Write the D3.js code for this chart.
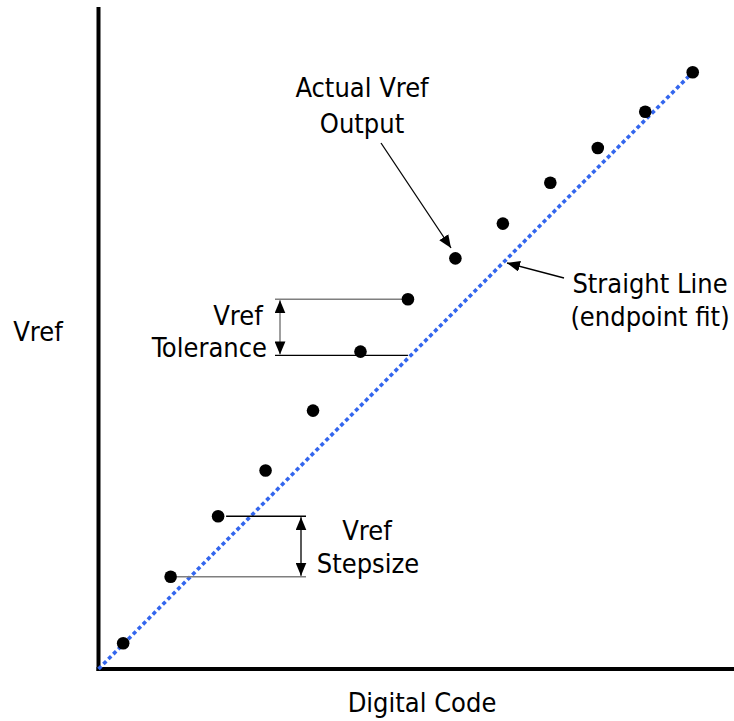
<!DOCTYPE html>
<html>
<head>
<meta charset="utf-8">
<script src="https://cdn.jsdelivr.net/npm/d3@7"></script>
<style>
  html, body { margin: 0; padding: 0; background: #fff; }
  svg text {
    font-family: "DejaVu Sans Condensed", "DejaVu Sans", sans-serif;
    font-stretch: condensed;
    font-size: 27px;
    fill: #000;
  }
</style>
</head>
<body>
<svg id="chart" width="734" height="721"></svg>
<script>
// Digital code vs. Vref output (values in LSB units)
const codes = [1, 2, 3, 4, 5, 6, 7, 8, 9, 10, 11, 12, 13];
const vrefActual = [1.02, 2.42, 3.69, 4.65, 5.91, 7.15, 8.25, 9.11, 9.84, 10.70, 11.43, 12.19, 13.02];

// endpoint-fit straight line
const fitCodes = [0.48, 13];
const fitValues = [0.48, 13.02];

// brackets
const toleranceCode = 7;
const toleranceLow = 7.07;
const stepCodes = [2, 3];

const svg = d3.select('#chart');

const x = d3.scaleLinear().domain([0.48, 13.87]).range([98.5, 734]);
const y = d3.scaleLinear().domain([0.48, 14.35]).range([669, 9]);

// Axes (no ticks, just the heavy lines)
svg.append('g')
  .attr('transform', `translate(0,${y(0.48)})`)
  .call(d3.axisBottom(x).tickValues([]).tickSizeOuter(0).offset(0));
svg.append('g')
  .attr('transform', `translate(${x(0.48)},0)`)
  .call(d3.axisLeft(y).tickValues([]).tickSizeOuter(0).offset(0));
svg.selectAll('.domain')
  .attr('stroke', '#000')
  .attr('stroke-width', 4)
  .attr('stroke-linecap', 'square');

// Arrow markers
const defs = svg.append('defs');
defs.append('marker')
  .attr('id', 'head')
  .attr('viewBox', '0 -5 12 10')
  .attr('refX', 12)
  .attr('refY', 0)
  .attr('markerUnits', 'userSpaceOnUse')
  .attr('markerWidth', 13)
  .attr('markerHeight', 11)
  .attr('orient', 'auto-start-reverse')
  .append('path')
  .attr('d', 'M0,-5L12,0L0,5Z')
  .attr('fill', '#000');

// Endpoint fit line
const fitData = fitCodes.map((c, i) => ({ c, v: fitValues[i] }));
svg.append('path')
  .datum(fitData)
  .attr('d', d3.line().x(d => x(d.c)).y(d => y(d.v)))
  .attr('fill', 'none')
  .attr('stroke', '#3366ee')
  .attr('stroke-width', 3.6)
  .attr('stroke-dasharray', '4,3');

// Tolerance bracket
const tolX0 = 275;
const tolArrowX = 280;
svg.append('line')
  .attr('x1', tolX0).attr('x2', x(toleranceCode))
  .attr('y1', y(vrefActual[toleranceCode - 1])).attr('y2', y(vrefActual[toleranceCode - 1]))
  .attr('stroke', '#7f7f7f').attr('stroke-width', 1.5);
svg.append('line')
  .attr('x1', tolX0).attr('x2', x(toleranceCode))
  .attr('y1', y(toleranceLow)).attr('y2', y(toleranceLow))
  .attr('stroke', '#000').attr('stroke-width', 1.3);
svg.append('line')
  .attr('x1', tolArrowX).attr('x2', tolArrowX)
  .attr('y1', y(vrefActual[toleranceCode - 1]) + 1).attr('y2', y(toleranceLow) - 1)
  .attr('stroke', '#7f7f7f').attr('stroke-width', 1.5)
  .attr('marker-start', 'url(#head)')
  .attr('marker-end', 'url(#head)');

// Stepsize bracket
const stepX1 = 306;
const stepArrowX = 301;
svg.append('line')
  .attr('x1', x(stepCodes[1]) + 8).attr('x2', stepX1)
  .attr('y1', y(vrefActual[stepCodes[1] - 1])).attr('y2', y(vrefActual[stepCodes[1] - 1]))
  .attr('stroke', '#000').attr('stroke-width', 1.3);
svg.append('line')
  .attr('x1', x(stepCodes[0]) + 6).attr('x2', stepX1)
  .attr('y1', y(vrefActual[stepCodes[0] - 1])).attr('y2', y(vrefActual[stepCodes[0] - 1]))
  .attr('stroke', '#7f7f7f').attr('stroke-width', 1.5);
svg.append('line')
  .attr('x1', stepArrowX).attr('x2', stepArrowX)
  .attr('y1', y(vrefActual[stepCodes[1] - 1]) + 1).attr('y2', y(vrefActual[stepCodes[0] - 1]) - 1)
  .attr('stroke', '#000').attr('stroke-width', 1.3)
  .attr('marker-start', 'url(#head)')
  .attr('marker-end', 'url(#head)');

// Data points
svg.append('g')
  .selectAll('circle')
  .data(codes)
  .join('circle')
  .attr('cx', d => x(d))
  .attr('cy', (d, i) => y(vrefActual[i]))
  .attr('r', 6.3)
  .attr('fill', '#000');

// Pointer arrows
svg.append('line')
  .attr('x1', 381).attr('y1', 143)
  .attr('x2', 451).attr('y2', 248)
  .attr('stroke', '#000').attr('stroke-width', 1.3)
  .attr('marker-end', 'url(#head)');
svg.append('line')
  .attr('x1', 564).attr('y1', 278)
  .attr('x2', 507).attr('y2', 263)
  .attr('stroke', '#000').attr('stroke-width', 1.3)
  .attr('marker-end', 'url(#head)');

// Labels
const labels = [
  { text: 'Actual Vref', x: 362, y: 97, anchor: 'middle' },
  { text: 'Output', x: 362, y: 133, anchor: 'middle' },
  { text: 'Straight Line', x: 650, y: 293, anchor: 'middle' },
  { text: '(endpoint fit)', x: 650, y: 326, anchor: 'middle' },
  { text: 'Vref', x: 238, y: 325, anchor: 'middle' },
  { text: 'Tolerance', x: 267, y: 357, anchor: 'end' },
  { text: 'Vref', x: 367, y: 540, anchor: 'middle' },
  { text: 'Stepsize', x: 368, y: 573, anchor: 'middle' },
  { text: 'Vref', x: 38, y: 341, anchor: 'middle' },
  { text: 'Digital Code', x: 422, y: 712, anchor: 'middle' }
];

svg.append('g')
  .selectAll('text')
  .data(labels)
  .join('text')
  .attr('x', d => d.x)
  .attr('y', d => d.y)
  .attr('text-anchor', d => d.anchor)
  .text(d => d.text);
</script>
</body>
</html>
